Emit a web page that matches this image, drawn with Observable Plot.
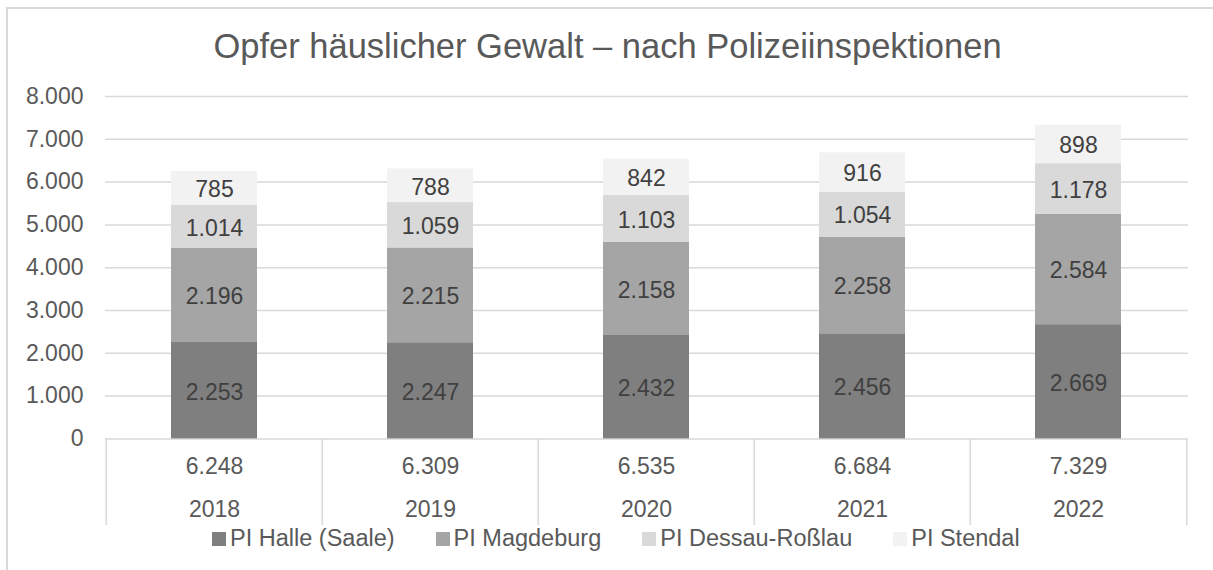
<!DOCTYPE html>
<html>
<head>
<meta charset="utf-8">
<script src="https://cdn.jsdelivr.net/npm/d3@7"></script>
<script src="https://cdn.jsdelivr.net/npm/@observablehq/plot@0.6"></script>
<style>
  body { margin: 0; background: #fff; font-family: "Liberation Sans", Arial, sans-serif; }
  #wrap { position: relative; width: 1213px; height: 570px; overflow: hidden; }
  #frame { position: absolute; left: 6px; top: 7px; width: 1300px; height: 700px; border: 2px solid #d9d9d9; box-sizing: border-box; }
  #title { position: absolute; left: 7px; width: 1201px; top: 28.5px; text-align: center; font-size: 34.5px; line-height: 1; color: #595959; white-space: nowrap; }
  #chart { position: absolute; left: 0; top: 70px; }
  #legend { position: absolute; left: 212px; top: 527px; display: flex; align-items: center; gap: 41px; font-size: 23.5px; line-height: 1; color: #595959; white-space: nowrap; }
  .item { display: flex; align-items: center; gap: 4px; }
  .sw { width: 14px; height: 14px; display: inline-block; }
</style>
</head>
<body>
<div id="wrap">
  <div id="frame"></div>
  <div id="title">Opfer häuslicher Gewalt – nach Polizeiinspektionen</div>
  <div id="chart"></div>
  <div id="legend"></div>
</div>
<script>
// ---- Data ----
const years = ["2018", "2019", "2020", "2021", "2022"];
const seriesNames = ["PI Halle (Saale)", "PI Magdeburg", "PI Dessau-Roßlau", "PI Stendal"];
const halle = [2253, 2247, 2432, 2456, 2669];
const magdeburg = [2196, 2215, 2158, 2258, 2584];
const dessau = [1014, 1059, 1103, 1054, 1178];
const stendal = [785, 788, 842, 916, 898];
const totals = [6248, 6309, 6535, 6684, 7329];
const yTicks = [0, 1000, 2000, 3000, 4000, 5000, 6000, 7000, 8000];
const seriesColors = ["#7f7f7f", "#a5a5a5", "#d9d9d9", "#f2f2f2"];

// ---- Build table ----
const seriesValues = [halle, magdeburg, dessau, stendal];
const rows = [];
seriesNames.forEach((s, si) => {
  years.forEach((y, yi) => rows.push({ year: y, series: s, value: seriesValues[si][yi] }));
});
const totalRows = years.map((y, i) => ({ year: y, total: totals[i] }));

const fmt = d3.formatLocale({ decimal: ",", thousands: ".", grouping: [3], currency: ["", "€"] }).format(",d");

// layout constants
const W = 1213, H = 460, ML = 105, MR = 25;
const halfStep = (W - ML - MR) / years.length / 2;

const chart = Plot.plot({
  width: W,
  height: H,
  marginLeft: ML,
  marginRight: MR,
  marginTop: 26,
  marginBottom: 91.6,
  style: { fontFamily: "'Liberation Sans', Arial, sans-serif", fontSize: "23px", color: "#595959", background: "transparent", overflow: "visible" },
  x: { domain: years, paddingInner: 0.6, paddingOuter: 0.3, axis: null },
  y: { domain: [0, 8000], ticks: yTicks, tickSize: 0, tickPadding: 22, tickFormat: fmt, label: null },
  color: { domain: seriesNames, range: seriesColors },
  marks: [
    Plot.ruleY(yTicks, { stroke: "#d9d9d9", strokeWidth: 1.5 }),
    Plot.ruleX(years, { x: d => d, y1: 0, y2: -2025, dx: -halfStep, stroke: "#d9d9d9", strokeWidth: 1.5 }),
    Plot.ruleX(years.slice(-1), { x: d => d, y1: 0, y2: -2025, dx: halfStep, stroke: "#d9d9d9", strokeWidth: 1.5 }),
    Plot.barY(rows, { x: "year", y: "value", fill: "series" }),
    Plot.text(rows, Plot.stackY({ x: "year", y: "value", z: "series", text: d => fmt(d.value), fill: "#404040", fontSize: 23, dy: 1.5 })),
    Plot.text(totalRows, { x: "year", text: d => fmt(d.total), frameAnchor: "bottom", dy: 34.6, fill: "#595959", fontSize: 23 }),
    Plot.text(totalRows, { x: "year", text: "year", frameAnchor: "bottom", dy: 78, fill: "#595959", fontSize: 23 })
  ]
});
document.getElementById("chart").appendChild(chart);

// ---- Legend ----
const legend = document.getElementById("legend");
seriesNames.forEach((s, i) => {
  const item = document.createElement("div");
  item.className = "item";
  const sw = document.createElement("span");
  sw.className = "sw";
  sw.style.background = seriesColors[i];
  const t = document.createElement("span");
  t.textContent = s;
  item.appendChild(sw);
  item.appendChild(t);
  legend.appendChild(item);
});
</script>
</body>
</html>
